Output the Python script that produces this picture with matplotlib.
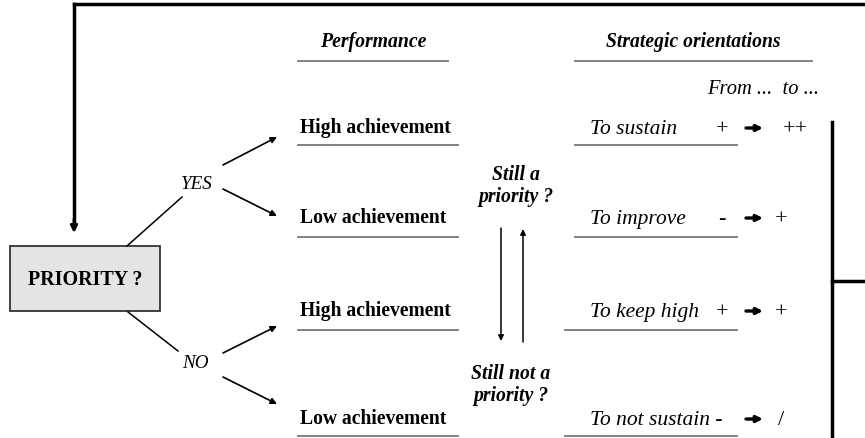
import matplotlib
matplotlib.use("Agg")
import matplotlib.pyplot as plt
from matplotlib.patches import Rectangle

# labels of the diagram
headers = ["Performance", "Strategic orientations"]
performance = ["High achievement", "Low achievement", "High achievement", "Low achievement"]
orientations = ["To sustain", "To improve", "To keep high", "To not sustain -"]
from_signs = ["+", "-", "+", ""]
to_signs = ["++", "+", "+", "/"]
branches = ["YES", "NO"]
loop_labels = ["Still a\npriority ?", "Still not a\npriority ?"]

# row layout (pixel coords, y downwards)
row_text_y = [131, 221, 314, 422]
row_line_y = [146, 238, 331, 437]
orient_line_x0 = [575, 575, 565, 565]

SERIF = "Liberation Serif"


def arrow(ax, x0, y0, x1, y1, lw=1.2, head=9, color="black"):
    ax.annotate("", xy=(x1, y1), xytext=(x0, y0),
                arrowprops=dict(arrowstyle="-|>", lw=lw, color=color,
                                mutation_scale=head, shrinkA=0, shrinkB=0))


def main():
    fig = plt.figure(figsize=(8.65, 4.39), dpi=100)
    ax = fig.add_axes([0, 0, 1, 1])
    ax.set_xlim(0, 865)
    ax.set_ylim(439, 0)
    ax.axis("off")

    # feedback loop frame
    ax.plot([865, 74], [5, 5], color="black", lw=2.5, solid_capstyle="projecting")
    ax.plot([74, 74], [5, 225], color="black", lw=2.5)
    arrow(ax, 74, 220, 74, 234, lw=2.0, head=10)
    ax.plot([832, 832], [123, 439], color="black", lw=2.5)
    ax.plot([832, 865], [282, 282], color="black", lw=2.5)

    # priority box
    ax.add_patch(Rectangle((10, 247), 150, 65, facecolor="#e4e4e4",
                           edgecolor="#333333", lw=1.3))
    ax.text(85, 280, "PRIORITY ?", fontsize=14.4, fontweight="bold",
            family=SERIF, ha="center", va="center")

    # branches
    ax.plot([127, 182], [247, 198], color="black", lw=1.1)
    ax.plot([128, 178], [313, 352], color="black", lw=1.1)
    ax.text(197, 185, branches[0], fontsize=13.8, style="italic",
            family=SERIF, ha="center", va="center")
    ax.text(195, 364, branches[1], fontsize=13.8, style="italic",
            family=SERIF, ha="center", va="center")
    arrow(ax, 223, 166, 277, 138)
    arrow(ax, 223, 190, 277, 217)
    arrow(ax, 223, 354, 277, 327)
    arrow(ax, 223, 378, 277, 405)

    # headers
    ax.text(373, 42, headers[0], fontsize=14.2, fontweight="bold",
            style="italic", family=SERIF, ha="center", va="center")
    ax.plot([298, 448], [62, 62], color="#777777", lw=1.3)
    ax.text(693, 42, headers[1], fontsize=14.1, fontweight="bold",
            style="italic", family=SERIF, ha="center", va="center")
    ax.plot([575, 812], [62, 62], color="#777777", lw=1.3)
    ax.text(763, 90, "From ...  to ...", fontsize=14.8, style="italic",
            family=SERIF, ha="center", va="center")

    for i in range(4):
        ty = row_text_y[i]
        ly = row_line_y[i]
        ax.text(300, ty - 3, performance[i], fontsize=14.1, fontweight="bold",
                family=SERIF, ha="left", va="center")
        ax.plot([298, 458], [ly, ly], color="#777777", lw=1.3)
        ax.text(590, ty - 1, orientations[i], fontsize=15.5, style="italic",
                family=SERIF, ha="left", va="center")
        if from_signs[i]:
            ax.text(722, ty - 1, from_signs[i], fontsize=16, family=SERIF,
                    ha="center", va="center")
        arrow(ax, 746, ty - 2, 763, ty - 2, lw=2.4, head=9)
        ax.text(781 if len(to_signs[i]) == 1 else 795, ty - 1, to_signs[i],
                fontsize=16, family=SERIF, ha="center", va="center")
        ax.plot([orient_line_x0[i], 737], [ly, ly], color="#777777", lw=1.3)

    # loop between priority states
    ax.text(516, 186, loop_labels[0], fontsize=14.2, fontweight="bold",
            style="italic", family=SERIF, ha="center", va="center",
            linespacing=1.18)
    ax.text(511, 385, loop_labels[1], fontsize=14.2, fontweight="bold",
            style="italic", family=SERIF, ha="center", va="center",
            linespacing=1.18)
    arrow(ax, 501, 229, 501, 342, lw=1.1, head=8)
    arrow(ax, 523, 343, 523, 230, lw=1.1, head=8)

    fig.savefig("out.png", dpi=100, facecolor="white")


if __name__ == "__main__":
    main()
